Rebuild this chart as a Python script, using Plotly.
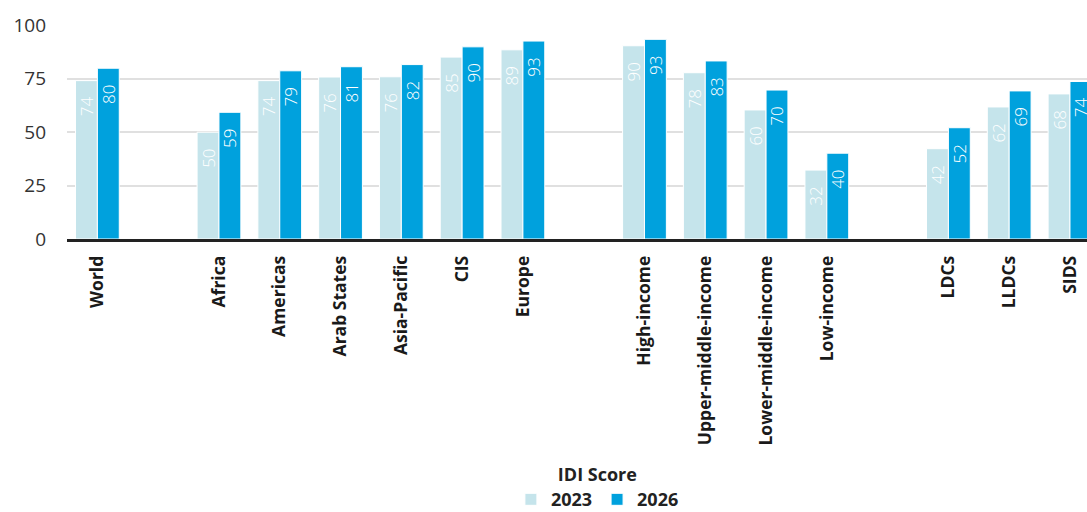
import plotly.graph_objects as go

categories = ["World", "", "Africa", "Americas", "Arab States", "Asia-Pacific", "CIS", "Europe", " ",
              "High-income", "Upper-middle-income", "Lower-middle-income", "Low-income", "  ",
              "LDCs", "LLDCs", "SIDS"]
values_2023 = [74.0, None, 49.9, 74.0, 75.7, 75.8, 85.0, 88.4, None,
               90.3, 77.7, 60.3, 32.2, None, 42.2, 61.7, 67.8]
values_2026 = [79.8, None, 59.2, 78.6, 80.5, 81.5, 89.8, 92.5, None,
               93.3, 83.2, 69.6, 40.1, None, 52.0, 69.2, 73.6]
labels_2023 = ["74", "", "50", "74", "76", "76", "85", "89", "", "90", "78", "60", "32", "", "42", "62", "68"]
labels_2026 = ["80", "", "59", "79", "81", "82", "90", "93", "", "93", "83", "70", "40", "", "52", "69", "74"]
y_ticks = [0, 25, 50, 75, 100]

x = list(range(len(categories)))
FONT = "'Open Sans', Lato, sans-serif"
PAD = "\u00a0\u00a0\u00a0"

fig = go.Figure()
for name, vals, labs, col in [("2023", values_2023, labels_2023, "#c5e4eb"),
                              ("2026", values_2026, labels_2026, "#00a1dd")]:
    fig.add_trace(go.Bar(
        x=x, y=vals, name=name, text=[(l + PAD) if l else "" for l in labs],
        marker=dict(color=col, line=dict(color="white", width=1)),
        textposition="inside", insidetextanchor="end", textangle=-90,
        textfont=dict(color="white", size=17, family=FONT, weight=300), cliponaxis=True,
    ))

fig.update_layout(
    width=1087, height=512,
    margin=dict(l=67, r=0, t=25, b=273),
    paper_bgcolor="white", plot_bgcolor="white",
    barmode="group", bargap=0.28, bargroupgap=0,
    uniformtext=dict(mode="show", minsize=17),
    font=dict(family=FONT, color="#222"),
    xaxis=dict(
        range=[-0.5, 16.28], tickmode="array", tickvals=x, ticktext=categories,
        tickangle=-90, tickfont=dict(size=17.5, color="#1a1a1a", family=FONT, weight="bold"),
        showgrid=False, showline=True, linecolor="#222", linewidth=2.5,
        ticks="", ticklabelstandoff=7, zeroline=False,
    ),
    yaxis=dict(
        range=[0, 100], tickvals=y_ticks, showgrid=True, gridcolor="#e0e0e0", gridwidth=1.5,
        tickfont=dict(size=19, color="#333", family=FONT), zeroline=False,
        ticks="", ticklabelstandoff=20,
    ),
    showlegend=True,
    legend=dict(
        orientation="h", x=0.52, xanchor="center",
        yref="container", y=0.106, yanchor="top",
        title=dict(text="<b>IDI Score</b>", side="top center", font=dict(size=18, color="#222")),
        font=dict(size=18, color="#222", weight="bold"),
        itemwidth=30, traceorder="normal", tracegroupgap=0,
    ),
)

fig.write_html("out.html")
